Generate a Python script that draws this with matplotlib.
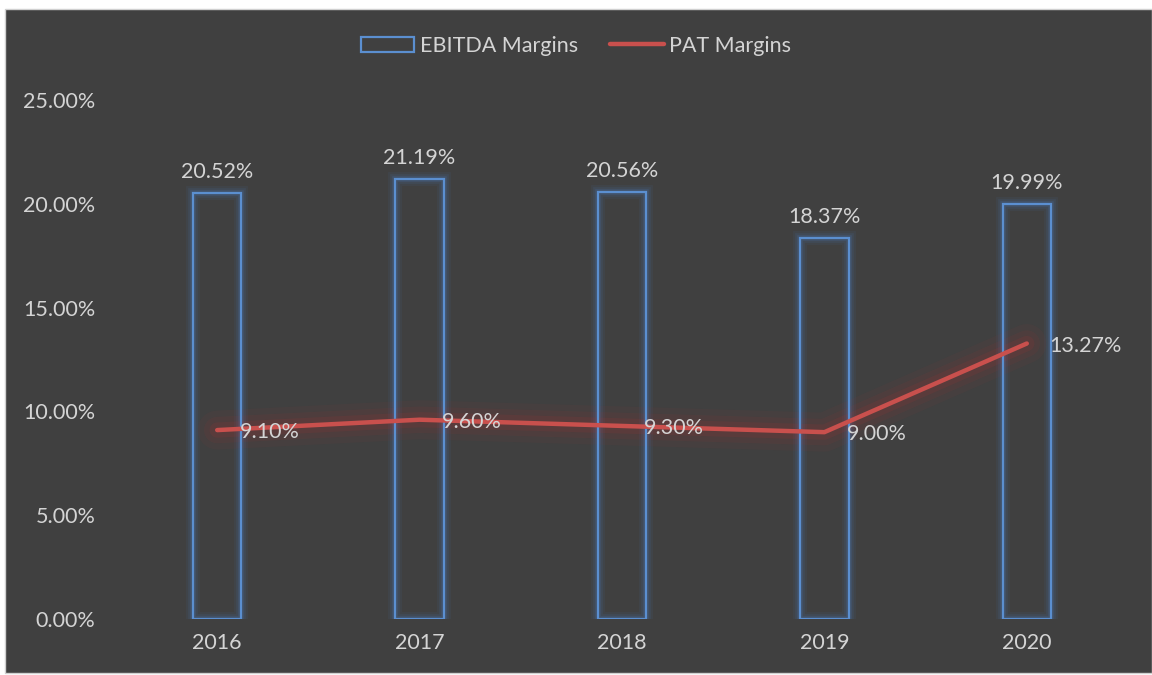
import matplotlib
matplotlib.use("Agg")
import matplotlib.pyplot as plt
from matplotlib.patches import Rectangle
import numpy as np

years = ["2016", "2017", "2018", "2019", "2020"]
ebitda = [20.52, 21.19, 20.56, 18.37, 19.99]
pat = [9.10, 9.60, 9.30, 9.00, 13.27]
yticks = [0, 5, 10, 15, 20, 25]

plt.rcParams['font.family'] = ['Lato', 'DejaVu Sans']
W, H = 1152, 675
bg = '#404040'
txt = '#D4D4D4'
blue = '#5B8FD0'
red = '#C9504D'
fs = 15.5

fig = plt.figure(figsize=(W/100, H/100), dpi=100, facecolor='white')
fig.patches.append(Rectangle((5/W, 2/H), 1 - 5/W, 1 - 11/H, transform=fig.transFigure,
                             facecolor=bg, edgecolor='#D0D0D0', lw=1, zorder=-10))
ax = fig.add_axes([116/W, 1 - 619/H, (1128-116)/W, (619-100)/H])
ax.set_facecolor(bg)
ax.patch.set_alpha(0)
x = np.arange(len(years))

# glow for bars
for lw, a in [(10, 0.07), (7, 0.11), (4, 0.18)]:
    ax.bar(x, ebitda, width=0.24, facecolor='none', edgecolor='#4A7FC8', lw=lw, alpha=a, zorder=2)
bars = ax.bar(x, ebitda, width=0.24, facecolor='none', edgecolor=blue, lw=1.6, zorder=3,
              label='EBITDA Margins')

# glow for line
for lw, a in [(28, 0.05), (19, 0.07), (11, 0.11)]:
    ax.plot(x, pat, color='#C0302D', lw=lw, alpha=a, solid_capstyle='round', zorder=2)
line, = ax.plot(x, pat, color=red, lw=3.2, solid_capstyle='round', zorder=4, label='PAT Margins')

for xi, v in zip(x, ebitda):
    ax.annotate(f"{v:.2f}%", (xi, v), xytext=(0, 8), textcoords='offset points',
                ha='center', va='bottom', color=txt, fontsize=fs)
for xi, v in zip(x, pat):
    ax.annotate(f"{v:.2f}%", (xi, v), xytext=(16, -1.5), textcoords='offset points',
                ha='left', va='center', color=txt, fontsize=fs, zorder=5)

ax.set_xlim(-0.5, len(years) - 0.5)
ax.set_ylim(0, 25)
ax.set_xticks(x)
ax.set_xticklabels(years)
ax.set_yticks(yticks)
ax.set_yticklabels([f"{t:.2f}%" for t in yticks])
ax.tick_params(axis='both', length=0, colors=txt, labelsize=fs)
ax.tick_params(axis='y', pad=15)
ax.tick_params(axis='x', pad=10)
for s in ax.spines.values():
    s.set_visible(False)

leg = fig.legend([bars, line], ['EBITDA Margins', 'PAT Margins'], loc='center',
                 bbox_to_anchor=(0.5, 1 - 46/H), ncol=2, frameon=False,
                 fontsize=fs, handlelength=2.5, handleheight=0.7, columnspacing=1.5,
                 handletextpad=0.25)
for t in leg.get_texts():
    t.set_color(txt)

fig.savefig("out.png", dpi=100, facecolor='white')
